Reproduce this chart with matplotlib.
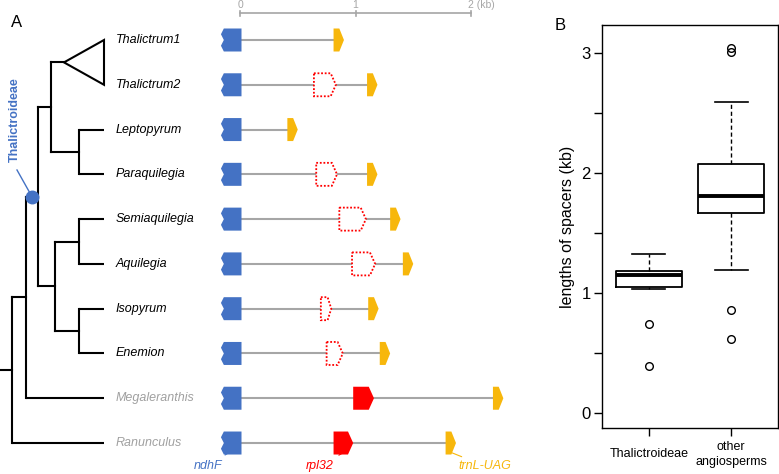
import matplotlib.pyplot as plt
from matplotlib.patches import Polygon
import numpy as np

plt.rcParams['font.family'] = ['Liberation Sans', 'DejaVu Sans']

# ---------------- data ----------------
taxa = ["Thalictrum1", "Thalictrum2", "Leptopyrum", "Paraquilegia", "Semiaquilegia",
        "Aquilegia", "Isopyrum", "Enemion", "Megaleranthis", "Ranunculus"]
taxa_grey = [False] * 8 + [True, True]

# spacer: ndhF end (0 kb) -> trnL-UAG start (kb)
trnl_start = [0.81, 1.10, 0.41, 1.10, 1.30, 1.41, 1.11, 1.21, 2.19, 1.78]
rpl32_start = [None, 0.64, None, 0.66, 0.86, 0.97, 0.70, 0.75, 0.98, 0.81]
rpl32_end = [None, 0.83, None, 0.84, 1.09, 1.17, 0.79, 0.89, 1.16, 0.98]
rpl32_intact = [False] * 8 + [True, True]

# panel B box statistics (kb)
groups = ["Thalictroideae", "other\nangiosperms"]
whislo = [1.03, 1.19]
q1 = [1.05, 1.67]
med = [1.15, 1.81]
q3 = [1.18, 2.075]
whishi = [1.325, 2.59]
fliers = [[0.74, 0.39], [0.86, 0.62, 3.04, 3.01]]

BLUE = '#4472C4'
RED = '#FF0000'
GOLD = '#F7B70C'
GREY = '#A6A6A6'

W, H = 779, 474
fig = plt.figure(figsize=(W / 100, H / 100), dpi=100)

# rows: y pixel 40 for first, step 44.78
row_step = 44.78
ytop = -40 / row_step
ybot = (H - 40) / row_step
rows = np.arange(len(taxa))

# ---------------- tree ----------------
axt = fig.add_axes([0, 0, 200 / W, 1])
axt.set_xlim(0, 200)
axt.set_ylim(ybot, ytop)
axt.axis('off')

tip_x = 104
tree = (12, [(26, [(38, [(51, [('tri', 64, (0, 1)), (79, [2, 3])]),
                         (55, [(79, [4, 5]), (79, [6, 7])])], 'thal'), 8]), 9])
node_y = {}


def draw(node, parent_x):
    if isinstance(node, int):
        y = rows[node]
        axt.plot([parent_x, tip_x], [y, y], color='black', lw=1.5, solid_capstyle='butt')
        return y
    if node[0] == 'tri':
        _, x, (i, j) = node
        y = (rows[i] + rows[j]) / 2
        axt.add_patch(Polygon([(x, y), (tip_x, rows[i]), (tip_x, rows[j])],
                              closed=True, fill=False, edgecolor='black', lw=1.5))
        axt.plot([parent_x, x], [y, y], color='black', lw=1.5)
        return y
    x, kids = node[0], node[1]
    ys = [draw(k, x) for k in kids]
    y = np.mean(ys)
    axt.plot([x, x], [min(ys), max(ys)], color='black', lw=1.5)
    axt.plot([parent_x, x], [y, y], color='black', lw=1.5)
    if len(node) > 2:
        node_y[node[2]] = y
    return y


draw(tree, 0)

for i, name in enumerate(taxa):
    axt.text(116, rows[i], name, style='italic', fontsize=9, va='center', ha='left',
             color='#A0A0A0' if taxa_grey[i] else 'black')

ty = node_y['thal']
axt.plot(32, ty, 'o', color=BLUE, ms=9, zorder=5)
axt.plot([17, 30], [(170 - 40) / row_step, ty - 0.08], color=BLUE, lw=1)
axt.text(15, (120 - 40) / row_step, "Thalictroideae", rotation=90, color=BLUE,
         fontsize=9, fontweight='bold', ha='center', va='center')
axt.text(17, (22 - 40) / row_step, "A", fontsize=12, ha='center', va='center')

# ---------------- gene maps ----------------
px_kb = 115.5
axg = fig.add_axes([200 / W, 0, 340 / W, 1])
axg.set_xlim((200 - 240) / px_kb, (540 - 240) / px_kb)
axg.set_ylim(ybot, ytop)
axg.axis('off')

h = 11.5 / row_step
for i in rows:
    s = trnl_start[i]
    axg.plot([0, s], [i, i], color=GREY, lw=1.5, zorder=1)
    # ndhF (notched left edge)
    x0, x1, d = -0.165, 0.013, 0.025
    axg.add_patch(Polygon([(x0 + d, i - h), (x0, i - h / 2), (x0 + d, i), (x0, i + h / 2),
                           (x0 + d, i + h), (x1, i + h), (x1, i - h)],
                          closed=True, facecolor=BLUE, edgecolor='none', zorder=2))
    # trnL-UAG
    axg.add_patch(Polygon([(s, i - h), (s + 0.05, i - h), (s + 0.09, i), (s + 0.05, i + h),
                           (s, i + h)], closed=True, facecolor=GOLD, edgecolor='none', zorder=2))
    # rpl32
    if rpl32_start[i] is not None:
        a, b = rpl32_start[i], rpl32_end[i]
        p = min(0.045, (b - a) * 0.35)
        verts = [(a, i - h), (b - p, i - h), (b, i), (b - p, i + h), (a, i + h)]
        if rpl32_intact[i]:
            axg.add_patch(Polygon(verts, closed=True, facecolor=RED, edgecolor='none', zorder=3))
        else:
            axg.add_patch(Polygon(verts, closed=True, facecolor='white', edgecolor=RED,
                                  lw=1.3, linestyle=(0, (1, 1)), zorder=3))

# scale bar
sb = (13 - 40) / row_step
axg.plot([0, 2], [sb, sb], color=GREY, lw=1.2)
for t in [0, 1, 2]:
    axg.plot([t, t], [sb - 2 / row_step, sb + 2.5 / row_step], color=GREY, lw=1.2)
lab_y = (5 - 40) / row_step
axg.text(0, lab_y, "0", color=GREY, fontsize=7.5, ha='center', va='center')
axg.text(1, lab_y, "1", color=GREY, fontsize=7.5, ha='center', va='center')
axg.text(2 - 0.03, lab_y, "2 (kb)", color=GREY, fontsize=7.5, ha='left', va='center')

# gene labels under the last row
last = rows[-1]
ly = (466 - 40) / row_step
axg.annotate("ndhF", xy=(-0.06, last + 0.6 * h), xytext=(-0.28, ly), color=BLUE,
             style='italic', fontsize=9, ha='center', va='center',
             arrowprops=dict(arrowstyle='-', color=BLUE, lw=0.8, shrinkA=3, shrinkB=0))
axg.annotate("rpl32", xy=(rpl32_end[-1] - 0.07, last + 0.75 * h), xytext=(0.69, ly), color=RED,
             style='italic', fontsize=9, ha='center', va='center',
             arrowprops=dict(arrowstyle='-', color=RED, lw=0.8, shrinkA=3, shrinkB=0))
axg.annotate("trnL-UAG", xy=(trnl_start[-1] + 0.03, last + 0.75 * h), xytext=(2.12, ly), color=GOLD,
             style='italic', fontsize=9, ha='center', va='center',
             arrowprops=dict(arrowstyle='-', color=GOLD, lw=0.8, shrinkA=1, shrinkB=0))

# ---------------- panel B ----------------
axb = fig.add_axes([602 / W, (H - 428) / H, 176 / W, 403 / H])
stats = []
for k in range(len(groups)):
    stats.append(dict(whislo=whislo[k], q1=q1[k], med=med[k], q3=q3[k],
                      whishi=whishi[k], fliers=fliers[k]))
axb.bxp(stats, positions=[1, 2], widths=0.8, showfliers=True,
        boxprops=dict(color='black', lw=1.3),
        medianprops=dict(color='black', lw=2.8),
        whiskerprops=dict(color='black', lw=1, linestyle=(0, (3, 2))),
        capprops=dict(color='black', lw=1.2),
        flierprops=dict(marker='o', markerfacecolor='none', markeredgecolor='black',
                        markersize=5.5, markeredgewidth=1))
axb.set_xlim(0.43, 2.57)
axb.set_ylim(-0.125, 3.233)
axb.set_yticks([0, 0.5, 1, 1.5, 2, 2.5, 3])
axb.set_yticklabels(["0", "", "1", "", "2", "", "3"], fontsize=12)
axb.set_xticks([1, 2])
axb.set_xticklabels(groups, fontsize=9, linespacing=1.3, va='center')
axb.tick_params(axis='both', length=6, width=1, color='black')
axb.tick_params(axis='x', pad=13)
axb.tick_params(axis='y', pad=2)
for sp in axb.spines.values():
    sp.set_linewidth(1)
axb.set_ylabel("lengths of spacers (kb)", fontsize=11.5, labelpad=5)
fig.text(560 / W, 1 - 25 / H, "B", fontsize=12, ha='center', va='center')

fig.savefig("out.png", dpi=100)
